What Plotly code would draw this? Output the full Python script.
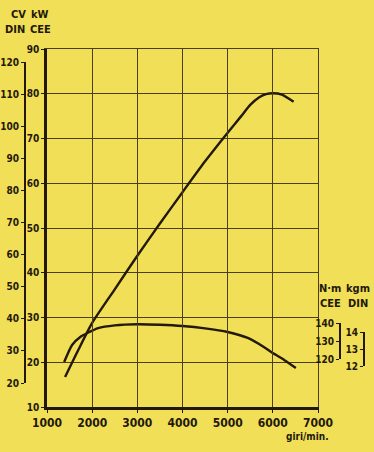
import plotly.graph_objects as go

# ---- data ----
rpm_power = [1400, 1700, 2000, 2500, 3000, 3500, 4000, 4500, 5000, 5300, 5500, 5700, 5850, 6000, 6200, 6460]
power_kw = [16.7, 22.9, 28.8, 36.3, 43.8, 51.0, 58.0, 64.9, 71.3, 75.0, 77.5, 79.2, 79.9, 80.1, 79.8, 78.2]

rpm_torque = [1380, 1556, 1750, 1889, 2133, 2500, 3000, 3500, 4000, 4500, 5000, 5444, 5800, 6000, 6250, 6510]
torque_nm = [118.3, 127.8, 132.5, 134.4, 137.2, 138.7, 139.3, 139.0, 138.3, 137.0, 135.0, 131.7, 126.7, 123.3, 119.5, 115.0]

x_ticks = [1000, 2000, 3000, 4000, 5000, 6000, 7000]
kw_ticks = [10, 20, 30, 40, 50, 60, 70, 80, 90]
cv_ticks = [20, 30, 40, 50, 60, 70, 80, 90, 100, 110, 120]
nm_ticks = [120, 130, 140]
kgm_ticks = [12, 13, 14]

# ---- layout geometry (pixels) ----
W, H = 374, 452
X0, X1 = 47, 318          # 1000 .. 7000 rpm
YKW0, YKW1 = 407, 49      # 10 .. 90 kW
CVX, CV0, CV1 = 25, 383, 62      # CV axis: 20 .. 120
NMX, NM0, NM1 = 340, 359, 323    # N.m axis: 120 .. 140
KGX, KG0, KG1 = 364, 366, 332    # kgm axis: 12 .. 14

fx = lambda p: p / W
fy = lambda p: 1 - p / H

# torque plotted on full-height overlay axis aligned with N.m scale
nm_per_px = (nm_ticks[-1] - nm_ticks[0]) / (NM0 - NM1)
nm_lo = nm_ticks[0] - (YKW0 - NM0) * nm_per_px
nm_hi = nm_ticks[-1] + (NM1 - YKW1) * nm_per_px

BG = "#f2df58"
INK = "#22190a"
GRID = "#4a401c"
FONT = "Liberation Sans Narrow, DejaVu Sans Condensed, Arial Narrow, sans-serif"

fig = go.Figure()
fig.add_trace(go.Scatter(x=rpm_power, y=power_kw, mode="lines",
                         line=dict(color=INK, width=2.4, shape="spline", smoothing=0.6),
                         hoverinfo="skip", xaxis="x", yaxis="y"))
fig.add_trace(go.Scatter(x=rpm_torque, y=torque_nm, mode="lines",
                         line=dict(color=INK, width=2.4, shape="spline", smoothing=0.6),
                         hoverinfo="skip", xaxis="x", yaxis="y4"))
for xa, ya in [("x", "y2"), ("x", "y3"), ("x", "y5"), ("x2", "y"), ("x", "y6")]:
    fig.add_trace(go.Scatter(x=[None], y=[None], mode="lines", hoverinfo="skip",
                             xaxis=xa, yaxis=ya))

tickfont_small = dict(family=FONT, size=10, color=INK, weight="bold")
common = dict(zeroline=False, fixedrange=True, automargin=False)

fig.update_layout(
    width=W, height=H, autosize=False,
    margin=dict(l=0, r=0, t=0, b=0, pad=0, autoexpand=False),
    paper_bgcolor=BG, plot_bgcolor="rgba(0,0,0,0)",
    showlegend=False,
    xaxis=dict(domain=[fx(X0), fx(X1)], range=[1000, 7000], tickvals=x_ticks,
               showgrid=True, gridcolor=GRID, gridwidth=1,
               showline=True, linecolor=INK, linewidth=2.5,
               ticks="outside", ticklen=3, tickcolor=INK,
               tickfont=dict(family=FONT, size=12, color=INK, weight="bold"),
               anchor="y", **common),
    xaxis2=dict(overlaying="x", range=[1000, 7000], side="top", anchor="y",
                showline=True, linecolor=GRID, linewidth=1.2, showgrid=False,
                ticks="", showticklabels=False, **common),
    yaxis=dict(domain=[fy(YKW0), fy(YKW1)], range=[10, 90], tickvals=kw_ticks,
               showgrid=True, gridcolor=GRID, gridwidth=1,
               showline=True, linecolor=INK, linewidth=2.5,
               ticks="outside", ticklen=3, tickcolor=INK,
               tickfont=tickfont_small, anchor="x", **common),
    yaxis6=dict(overlaying="y", range=[10, 90], side="right", anchor="x",
                showline=True, linecolor=GRID, linewidth=1.2, showgrid=False,
                ticks="", showticklabels=False, **common),
    yaxis2=dict(domain=[fy(CV0), fy(CV1)], range=[20, 120], tickvals=cv_ticks,
                anchor="free", position=fx(CVX), side="left",
                showgrid=False, showline=True, linecolor=INK, linewidth=1.8,
                ticks="outside", ticklen=3, tickcolor=INK,
                tickfont=tickfont_small, **common),
    yaxis3=dict(domain=[fy(NM0), fy(NM1)], range=[120, 140], tickvals=nm_ticks,
                anchor="free", position=fx(NMX), side="left",
                showgrid=False, showline=True, linecolor=INK, linewidth=1.8,
                ticks="outside", ticklen=3, tickcolor=INK,
                tickfont=tickfont_small, **common),
    yaxis4=dict(overlaying="y", range=[nm_lo, nm_hi], visible=False,
                fixedrange=True, anchor="x"),
    yaxis5=dict(domain=[fy(KG0), fy(KG1)], range=[12, 14], tickvals=kgm_ticks,
                anchor="free", position=fx(KGX), side="left",
                showgrid=False, showline=True, linecolor=INK, linewidth=1.8,
                ticks="outside", ticklen=3, tickcolor=INK,
                tickfont=tickfont_small, **common),
)

labels = [
    ("CV", 18, 15), ("kW", 40, 15), ("DIN", 15, 29), ("CEE", 40, 29),
    ("N·m", 330, 288), ("kgm", 358, 288), ("CEE", 330, 303), ("DIN", 358, 303),
]
for txt, px, py in labels:
    fig.add_annotation(text=txt, x=fx(px), y=fy(py), xref="paper", yref="paper",
                       showarrow=False, xanchor="center", yanchor="middle",
                       font=dict(family=FONT, size=11, color=INK, weight="bold"))
fig.add_annotation(text="giri/min.", x=fx(307), y=fy(436), xref="paper", yref="paper",
                   showarrow=False, xanchor="center", yanchor="middle",
                   font=dict(family=FONT, size=10, color=INK, weight="bold"))

fig.write_html("out.html", config={"displayModeBar": False},
               post_script="document.body.style.margin='0';document.body.style.overflow='hidden';")
